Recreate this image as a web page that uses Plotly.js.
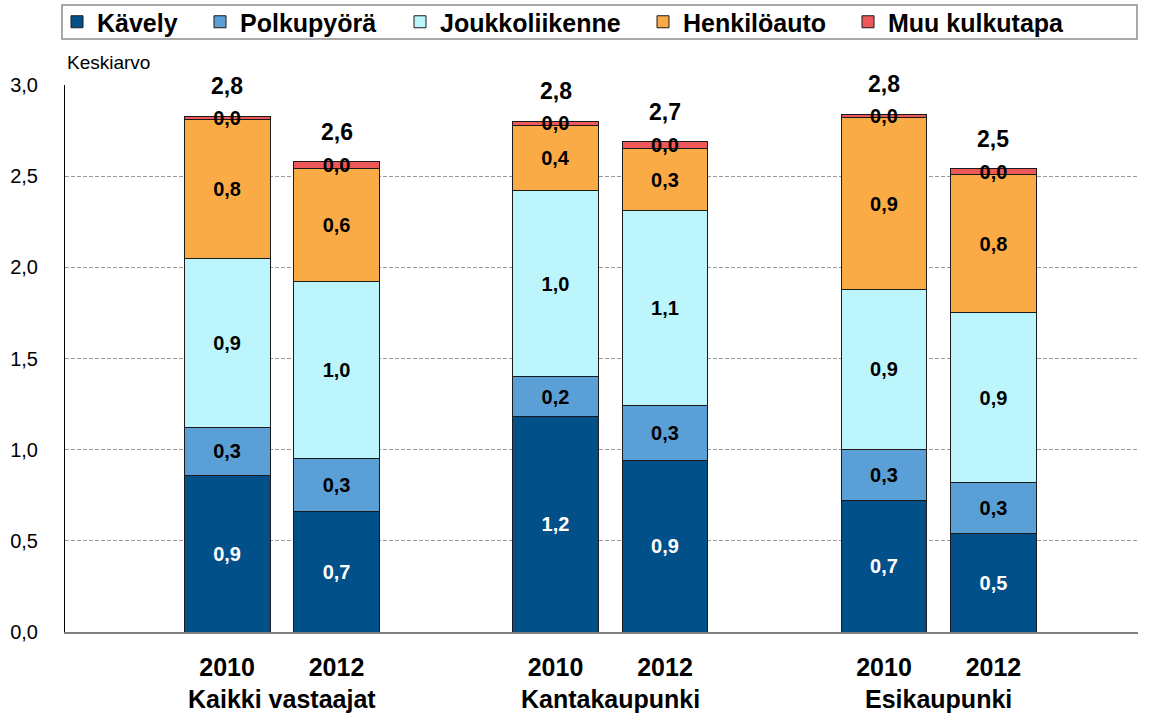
<!DOCTYPE html>
<html>
<head>
<meta charset="utf-8">
<script src="https://cdn.plot.ly/plotly-3.0.1.min.js"></script>
<style>html,body{margin:0;padding:0;background:#fff;}</style>
</head>
<body>
<div id="chart" style="width:1153px;height:713px;"></div>
<script>
// ---- data ----
var groups = ["Kaikki vastaajat", "Kantakaupunki", "Esikaupunki"];
var years = ["2010", "2012"];
var seriesNames = ["Kävely", "Polkupyörä", "Joukkoliikenne", "Henkilöauto", "Muu kulkutapa"];
// order: Kaikki 2010, Kaikki 2012, Kanta 2010, Kanta 2012, Esi 2010, Esi 2012
var kavely        = [0.86, 0.66, 1.18, 0.94, 0.72, 0.54];
var polkupyora    = [0.26, 0.29, 0.22, 0.30, 0.28, 0.28];
var joukkoliikenne= [0.93, 0.97, 1.02, 1.07, 0.88, 0.93];
var henkiloauto   = [0.76, 0.62, 0.36, 0.34, 0.94, 0.76];
var muu           = [0.02, 0.04, 0.02, 0.04, 0.02, 0.03];
var totals        = [2.8, 2.6, 2.8, 2.7, 2.8, 2.5];

var colors = ["#02508a", "#5b9fd7", "#bdf5fd", "#fbab45", "#ef585a"];
var textColors = ["#ffffff", "#000000", "#000000", "#000000", "#000000"];
var allSeries = [kavely, polkupyora, joukkoliikenne, henkiloauto, muu];
var FONT = "Liberation Sans, Arial, sans-serif";

// build categories with spacer slots between groups
var cats = [], realCats = [], realText = [], slotIndex = [];
groups.forEach(function (g, gi) {
  years.forEach(function (y) {
    var c = g + " " + y;
    slotIndex.push(cats.length);
    cats.push(c); realCats.push(c); realText.push(y);
  });
  if (gi < groups.length - 1) cats.push(" ".repeat(gi + 1));
});

function expand(arr) {
  var out = cats.map(function () { return null; });
  arr.forEach(function (v, i) { out[slotIndex[i]] = v; });
  return out;
}

var legendIds = ["legend", "legend2", "legend3", "legend4", "legend5"];
var legendTextX = [57, 200, 400, 643, 848]; // pixel x of each legend entry (container)

var traces = allSeries.map(function (vals, si) {
  return {
    type: "bar",
    name: seriesNames[si],
    legend: legendIds[si],
    x: cats,
    y: expand(vals),
    marker: { color: colors[si], line: { color: "#1a1a1a", width: 1 } },
    texttemplate: "%{y:.1f}",
    textposition: "inside",
    insidetextanchor: "middle",
    constraintext: "none",
    textangle: 0,
    insidetextfont: { family: FONT, size: 20, color: textColors[si], weight: "bold" },
    hoverinfo: "skip",
    cliponaxis: false
  };
});

var annotations = [];
// totals above bars
realCats.forEach(function (c, i) {
  var sum = kavely[i] + polkupyora[i] + joukkoliikenne[i] + henkiloauto[i] + muu[i];
  annotations.push({
    x: c, y: sum, xref: "x", yref: "y",
    text: "<b>" + totals[i].toFixed(1).replace(".", ",") + "</b>",
    showarrow: false, yanchor: "bottom", yshift: 15,
    font: { family: FONT, size: 23, color: "#000" }
  });
});
// group labels
groups.forEach(function (g, gi) {
  annotations.push({
    x: gi * 3 + 0.5, y: 0, xref: "x", yref: "paper",
    text: "<b>" + g + "</b>", showarrow: false, yanchor: "top", yshift: -51,
    font: { family: FONT, size: 25, color: "#000" }
  });
});
// axis title
annotations.push({
  x: 0, y: 1, xref: "paper", yref: "paper", xanchor: "left", yanchor: "bottom",
  text: "Keskiarvo", showarrow: false, yshift: 10,
  font: { family: FONT, size: 19, color: "#000" }
});

var layout = {
  width: 1153, height: 713,
  margin: { l: 65, r: 15, t: 85, b: 81 },
  paper_bgcolor: "#fff", plot_bgcolor: "#fff",
  barmode: "stack", bargap: 0.215,
  separators: ", ",
  showlegend: true,
  xaxis: {
    type: "category", categoryorder: "array", categoryarray: cats,
    range: [-1.48, 8.32],
    tickvals: realCats, ticktext: realText, ticks: "", ticklabelstandoff: 12,
    tickfont: { family: FONT, size: 25, color: "#000", weight: "bold" },
    showline: true, linecolor: "#808080", linewidth: 2, showgrid: false, zeroline: false
  },
  yaxis: {
    range: [0, 3], dtick: 0.5, tickformat: ".1f",
    showgrid: true, gridcolor: "#9a9a9a", griddash: "4px,2px", gridwidth: 1,
    showline: true, linecolor: "#000", linewidth: 1, zeroline: false,
    ticks: "", ticklabelstandoff: 22,
    tickfont: { family: FONT, size: 20, color: "#000" }
  },
  shapes: [{
    type: "rect", xref: "paper", yref: "paper",
    x0: (62 - 65) / 1073, x1: (1137 - 65) / 1073,
    y0: (632 - 39) / 547, y1: (632 - 5) / 547,
    line: { color: "#8c8c8c", width: 1.5 }, fillcolor: "rgba(0,0,0,0)", layer: "above"
  }],
  annotations: annotations
};

legendIds.forEach(function (id, i) {
  layout[id] = {
    orientation: "h", xref: "container", yref: "container",
    x: legendTextX[i] / 1153, y: 1 - 22 / 713, xanchor: "left", yanchor: "middle",
    borderwidth: 0, bgcolor: "rgba(0,0,0,0)",
    font: { family: FONT, size: 25, color: "#000", weight: "bold" }
  };
});

Plotly.newPlot("chart", traces, layout, { displayModeBar: false, staticPlot: true });
</script>
</body>
</html>
